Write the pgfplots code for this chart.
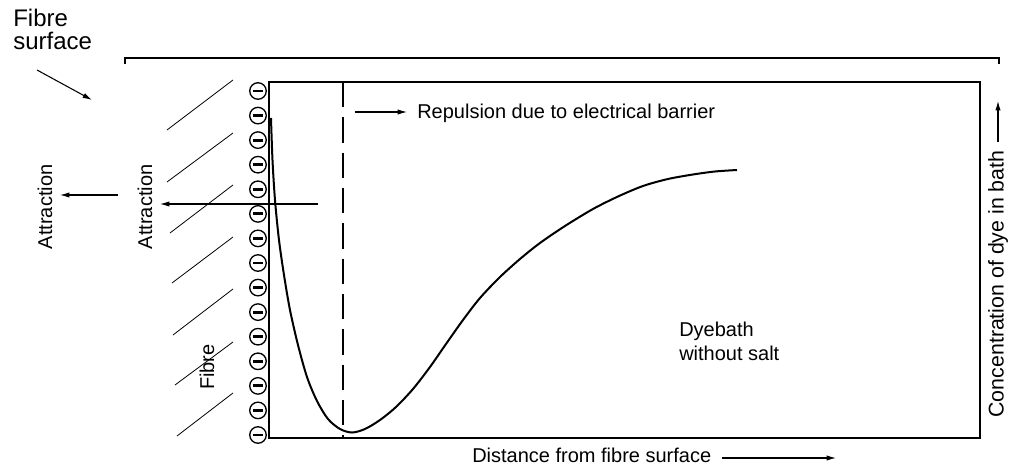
\documentclass[border=0pt]{standalone}
\usepackage{pgfplots}
\pgfplotsset{compat=1.18}
\usepackage{fontspec}
\setmainfont{Liberation Sans}
\usetikzlibrary{arrows.meta}
\pgfdeclareplotmark{ominus}{%
  \pgfsetlinewidth{1pt}%
  \pgfpathcircle{\pgfpointorigin}{6.2pt}\pgfusepathqstroke
  \pgfsetlinewidth{2.2pt}%
  \pgfpathmoveto{\pgfpoint{-3.6pt}{0pt}}\pgfpathlineto{\pgfpoint{3.6pt}{0pt}}\pgfusepathqstroke}
\begin{document}
\begin{tikzpicture}[x=0.75pt,y=0.75pt,
  arr/.style={-{Latex[length=7pt,width=4pt]},line width=0.8pt},
  lbl/.style={font=\fontsize{15}{18}\selectfont,inner sep=0pt}]
\begin{axis}[
  scale only axis,
  width=533.25pt, height=267pt,
  xmin=269, xmax=980, ymin=82, ymax=438,
  y dir=reverse,
  xtick=\empty, ytick=\empty,
  axis line style={line width=0.8pt},
  clip=false,
]
% page frame
\path (axis cs:0,0) rectangle (axis cs:1018,466);
% curve
\addplot[black, line width=1.5pt, smooth] coordinates {
(271,118) (272.5,160) (275,200) (279,240) (284,275) (290,310) (298,345)
(307,377) (317,401) (328,419) (340,429) (352,432.5) (365,429) (380,420)
(396,407) (413,389) (430,367) (446,344) (463,320) (480,298) (500,277)
(520,259) (540,243) (565,226) (593,209) (618,196.5) (643,186) (668,179)
(693,174.5) (715,171.5) (737,170)};
% dashed barrier
\addplot[black, line width=1.9pt, dash pattern=on 19pt off 7.5pt] coordinates {(343,82) (343,438)};
% negative charges
\addplot[only marks, mark=ominus, black] coordinates {
(258,91) (258,115.6) (258,140.1) (258,164.7) (258,189.3) (258,213.9) (258,238.4) (258,263)
(258,287.6) (258,312.1) (258,336.7) (258,361.3) (258,385.9) (258,410.4) (258,435)};
% hatch lines of fibre
\draw[line width=0.6pt] (axis cs:167,130) -- (axis cs:233,80);
\draw[line width=0.6pt] (axis cs:167,182) -- (axis cs:233,133);
\draw[line width=0.6pt] (axis cs:170,233) -- (axis cs:233,185);
\draw[line width=0.6pt] (axis cs:172,283) -- (axis cs:233,237);
\draw[line width=0.6pt] (axis cs:173,335) -- (axis cs:233,289);
\draw[line width=0.6pt] (axis cs:175,385) -- (axis cs:233,342);
\draw[line width=0.6pt] (axis cs:177,436) -- (axis cs:233,393);
% top bracket
\draw[line width=1pt] (axis cs:125,64) -- (axis cs:125,58) -- (axis cs:999,58) -- (axis cs:999,64);
% attraction arrows
\draw[arr] (axis cs:318,204) -- (axis cs:160,204);
\draw[arr] (axis cs:118,195) -- (axis cs:60,195);
% repulsion
\draw[arr] (axis cs:355,112) -- (axis cs:407,112);
\node[lbl, anchor=west] at (axis cs:417,113) {Repulsion due to electrical barrier};
% bottom label
\node[lbl, anchor=west] at (axis cs:472,455) {Distance from fibre surface};
\draw[arr] (axis cs:722,458) -- (axis cs:836,458);
% right label
\node[rotate=90, inner sep=0pt, font=\fontsize{16}{18}\selectfont] at (axis cs:998,284) {Concentration of dye in bath};
\draw[arr] (axis cs:998,142) -- (axis cs:998,101);
% attraction labels
\node[lbl, rotate=90] at (axis cs:45,207) {Attraction};
\node[lbl, rotate=90] at (axis cs:145,207) {Attraction};
\node[lbl, rotate=90] at (axis cs:207,367) {Fibre};
% dyebath
\node[lbl, anchor=north west, align=left] at (axis cs:679,322) {Dyebath\\without salt};
% fibre surface
\node[anchor=north west, align=left, inner sep=0pt, font=\fontsize{18}{17.5}\selectfont] at (axis cs:13,9) {Fibre\\surface};
\draw[-{Latex[length=7pt,width=4pt]},line width=0.8pt] (axis cs:37,70) -- (axis cs:92,100);
\end{axis}
\end{tikzpicture}
\end{document}
